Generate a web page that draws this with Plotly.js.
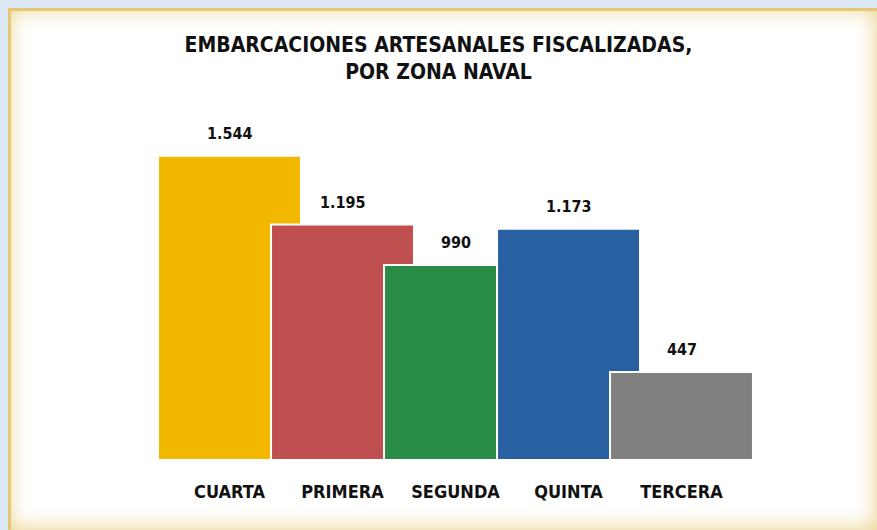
<!DOCTYPE html>
<html>
<head>
<meta charset="utf-8">
<script src="https://cdn.plot.ly/plotly-3.0.1.min.js"></script>
<style>
  html, body { margin: 0; padding: 0; }
  body { width: 877px; height: 530px; background: #dce7f4; position: relative; overflow: hidden; }
  #frame {
    position: absolute; left: 8px; top: 8px; width: 869px; height: 522px;
    background: #ffffff;
    box-shadow: inset 3px 3px 0 #e6c874, inset 0 0 22px rgba(226, 190, 90, 0.75);
  }
  #chart { position: absolute; left: 0; top: 0; width: 877px; height: 530px; }
</style>
</head>
<body>
<div id="frame"></div>
<div id="chart"></div>
<script>
var zonas = ['CUARTA', 'PRIMERA', 'SEGUNDA', 'QUINTA', 'TERCERA'];
var fiscalizadas = [1544, 1195, 990, 1173, 447];
var colores = ['#f2b800', '#c0504f', '#288c47', '#2860a2', '#808080'];

var fuente = 'Liberation Sans Narrow, Arial Narrow, DejaVu Sans Condensed, Liberation Sans, sans-serif';

function miles(v) {
  return String(v).replace(/\B(?=(\d{3})+(?!\d))/g, '.');
}

var idx = zonas.map(function (z, i) { return i; });

var barras = {
  type: 'bar',
  x: idx,
  y: fiscalizadas,
  width: 1.265,
  marker: {
    color: colores,
    line: { color: '#ffffff', width: 2 }
  },
  hoverinfo: 'skip'
};

var etiquetas = fiscalizadas.map(function (v, i) {
  return {
    x: i, y: v, xref: 'x', yref: 'y',
    text: '<b>' + miles(v) + '</b>',
    showarrow: false, yanchor: 'bottom', yshift: 11,
    font: { family: fuente, size: 16, color: '#111111' }
  };
});

var layout = {
  width: 877,
  height: 530,
  paper_bgcolor: 'rgba(0,0,0,0)',
  plot_bgcolor: 'rgba(0,0,0,0)',
  margin: { l: 0, r: 0, t: 100, b: 70 },
  showlegend: false,
  title: {
    text: '<b>EMBARCACIONES ARTESANALES FISCALIZADAS,<br>POR ZONA NAVAL</b>',
    font: { family: fuente, size: 21, color: '#111111' },
    x: 0.5, xanchor: 'center',
    yref: 'container', y: 0.902, yanchor: 'middle'
  },
  xaxis: {
    range: [-2.031, 5.73],
    tickvals: idx,
    ticktext: zonas.map(function (z) { return '<b>' + z + '</b>'; }),
    tickfont: { family: fuente, size: 18, color: '#111111' },
    ticks: 'outside', ticklen: 15, tickcolor: 'rgba(0,0,0,0)',
    showgrid: false, zeroline: false, showline: false,
    fixedrange: true
  },
  yaxis: {
    range: [0, 1827],
    visible: false,
    showgrid: false, zeroline: false,
    fixedrange: true
  },
  annotations: etiquetas
};

Plotly.newPlot('chart', [barras], layout, { displayModeBar: false, staticPlot: true });
</script>
</body>
</html>
